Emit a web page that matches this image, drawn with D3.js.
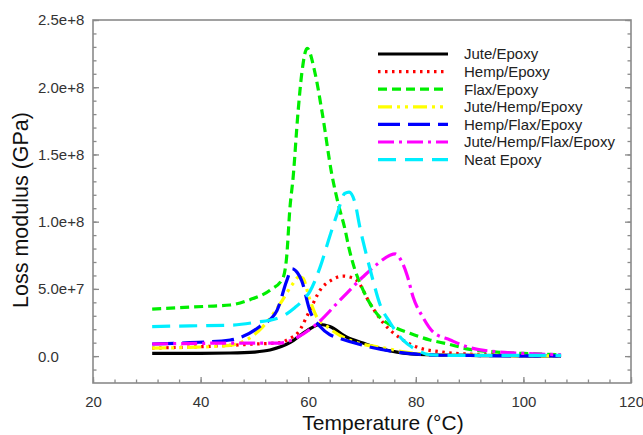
<!DOCTYPE html>
<html>
<head>
<meta charset="utf-8">
<script src="https://cdn.jsdelivr.net/npm/d3@7"></script>
<style>
  html, body { margin: 0; padding: 0; background: #fff; }
  svg { display: block; font-family: "Liberation Sans", Arial, sans-serif; }
</style>
</head>
<body>
<svg id="chart" width="643" height="435"></svg>
<script>
// ---------- data ----------
const seriesNames = ["Jute/Epoxy", "Hemp/Epoxy", "Flax/Epoxy", "Jute/Hemp/Epoxy",
                     "Hemp/Flax/Epoxy", "Jute/Hemp/Flax/Epoxy", "Neat Epoxy"];

const juteT = [31, 40, 45.5, 50, 52.9, 56.6, 59.8, 62.2, 64, 67.2, 70.2, 73, 76.5, 82, 90, 100, 107];
const juteV = [2.0e6, 2.1e6, 2.3e6, 3.0e6, 4.5e6, 1.0e7, 1.9e7, 2.35e7, 2.2e7, 1.4e7, 9.7e6, 6.0e6, 3.0e6, 1.0e6, 5e5, 2e5, 2e5];

const hempT = [31, 40, 45.5, 50, 54.8, 56.5, 58, 60.3, 62.2, 64.5, 66.5, 67.5, 69, 71.5, 73.9, 77.6, 80.2, 85, 90, 95, 100, 107];
const hempV = [6.0e6, 7.0e6, 8.0e6, 9.0e6, 1.0e7, 1.3e7, 1.7e7, 3.4e7, 4.9e7, 5.7e7, 5.95e7, 5.9e7, 5.65e7, 3.9e7, 2.5e7, 1.2e7, 6.7e6, 3.0e6, 1.5e6, 1.0e6, 5e5, 5e5];

const flaxT = [31, 36, 41, 45.5, 49.2, 52.9, 55.3, 56, 56.6, 57.2, 58.1, 58.8, 59.8, 61.3, 62.6, 64.4, 65.6, 66.8, 67.6, 68.7, 70, 71.5, 73.3, 75.8, 78.9, 82.6, 86, 90, 95, 100, 107];
const flaxV = [3.5e7, 3.6e7, 3.7e7, 3.8e7, 4.2e7, 4.9e7, 5.8e7, 7.4e7, 1.1e8, 1.33e8, 1.81e8, 2.1e8, 2.29e8, 2.1e8, 1.81e8, 1.35e8, 1.13e8, 9.5e7, 8.0e7, 6.4e7, 5.1e7, 3.9e7, 2.9e7, 2.2e7, 1.7e7, 1.2e7, 9.0e6, 5.0e6, 3.0e6, 2.0e6, 1.0e6];

const juteHempT = [31, 38, 45.5, 51.6, 54.8, 57, 58.3, 59, 60.3, 61.6, 63.5, 66.5, 70, 73.3, 78, 85, 95, 107];
const juteHempV = [6.0e6, 6.5e6, 8.0e6, 2.2e7, 3.9e7, 5.3e7, 5.9e7, 5.8e7, 4.2e7, 2.9e7, 2.2e7, 1.4e7, 9.0e6, 6.7e6, 3.0e6, 1.0e6, 5e5, 2e5];

const hempFlaxT = [31, 38, 45.5, 51, 54.2, 56, 57, 58, 58.8, 60.3, 62.2, 64, 66, 70.2, 76.5, 82, 90, 100, 107];
const hempFlaxV = [9.0e6, 1.0e7, 1.2e7, 2.2e7, 3.4e7, 5.6e7, 6.5e7, 6.2e7, 5.6e7, 3.4e7, 2.2e7, 1.6e7, 1.3e7, 8.0e6, 3.0e6, 1.0e6, 5e5, 2e5, 2e5];

const allFourT = [31, 40, 45.5, 50, 54.8, 58, 61.6, 66, 70.2, 73, 75.2, 76.2, 77, 78.4, 79.5, 81.3, 83.2, 86.4, 89.5, 95.6, 100, 107];
const allFourV = [9.0e6, 9.5e6, 9.7e6, 9.7e6, 9.7e6, 1.4e7, 2.4e7, 4.2e7, 5.9e7, 6.9e7, 7.5e7, 7.6e7, 7.3e7, 6.0e7, 4.4e7, 2.9e7, 1.8e7, 1.2e7, 6.9e6, 3.0e6, 2.0e6, 1.0e6];

const neatT = [31, 38, 45.5, 50, 54.8, 56.2, 57.5, 58.9, 60.3, 62.2, 64, 65.4, 66.8, 67.6, 68.7, 69.6, 70.9, 72, 73.3, 75.2, 77.6, 80.2, 82.6, 86, 90, 95, 100, 107];
const neatV = [2.2e7, 2.25e7, 2.3e7, 2.5e7, 2.9e7, 3.2e7, 3.6e7, 4.1e7, 4.8e7, 6.6e7, 8.9e7, 1.06e8, 1.21e8, 1.22e8, 1.14e8, 9.6e7, 7.4e7, 5.7e7, 3.9e7, 2.5e7, 1.2e7, 4.5e6, 1.0e6, 5e5, 5e5, 5e5, 5e5, 5e5];

const xMajorTicks = [20, 40, 60, 80, 100, 120];
const xTickLabels = ["20", "40", "60", "80", "100", "120"];
const yMajorTicks = [0, 5e7, 1e8, 1.5e8, 2e8, 2.5e8];
const yTickLabels = ["0.0", "5.0e+7", "1.0e+8", "1.5e+8", "2.0e+8", "2.5e+8"];

const xTitle = "Temperature (°C)";
const yTitle = "Loss modulus (GPa)";

// ---------- styles ----------
const colors = ["#000000", "#ff0000", "#00ee00", "#ffff00", "#0000ff", "#ff00ff", "#00eeff"];
const dashes = [null, "2.5,4.5", "9,5", "14,5,3,5,3,5", "22,8", "16,5,3,5", "18,9"];

const seriesT = [juteT, hempT, flaxT, juteHempT, hempFlaxT, allFourT, neatT];
const seriesV = [juteV, hempV, flaxV, juteHempV, hempFlaxV, allFourV, neatV];

// ---------- layout ----------
const svg = d3.select("#chart");
const L = 93, R = 631, T = 20, B = 383;

const x = d3.scaleLinear().domain([20, 120]).range([L, R]);
const y = d3.scaleLinear().domain([-2e7, 2.5e8]).range([B, T]);

const frameColor = "#8a8a8a";

// minor ticks
const xMinor = d3.range(20, 120.01, 4);
const yMinor = d3.range(-1e7, 2.5e8 + 1, 1e7);

const gAx = svg.append("g");

// bottom axis (ticks inward)
const bottomMinor = d3.axisBottom(x).tickValues(xMinor).tickSize(-3.5).tickFormat("");
const bottomMajor = d3.axisBottom(x).tickValues(xMajorTicks).tickSize(-6)
  .tickFormat((d, i) => xTickLabels[i]).tickPadding(13);
gAx.append("g").attr("transform", `translate(0,${B})`).call(bottomMinor);
const gb = gAx.append("g").attr("transform", `translate(0,${B})`).call(bottomMajor);

// left axis
const leftMinor = d3.axisLeft(y).tickValues(yMinor).tickSize(-3.5).tickFormat("");
const leftMajor = d3.axisLeft(y).tickValues(yMajorTicks).tickSize(-6).tickFormat("");
gAx.append("g").attr("transform", `translate(${L},0)`).call(leftMinor);
gAx.append("g").attr("transform", `translate(${L},0)`).call(leftMajor);

// right axis
const rightMinor = d3.axisRight(y).tickValues(yMinor).tickSize(-3.5).tickFormat("");
const rightMajor = d3.axisRight(y).tickValues(yMajorTicks).tickSize(-6).tickFormat("");
gAx.append("g").attr("transform", `translate(${R},0)`).call(rightMinor);
gAx.append("g").attr("transform", `translate(${R},0)`).call(rightMajor);

gAx.selectAll(".domain").remove();
gAx.selectAll(".tick line").attr("stroke", frameColor).attr("stroke-width", 1.3);

gb.selectAll(".tick text")
  .attr("font-size", 15)
  .attr("fill", "#333")
  .attr("font-family", "Liberation Sans, Arial, sans-serif");

// y tick labels (left aligned as in the reference)
svg.append("g").selectAll("text").data(yMajorTicks).join("text")
  .attr("x", 38)
  .attr("y", d => y(d))
  .attr("dy", "0.36em")
  .attr("font-size", 15)
  .attr("fill", "#333")
  .text((d, i) => yTickLabels[i]);

// frame
svg.append("rect")
  .attr("x", L).attr("y", T)
  .attr("width", R - L).attr("height", B - T)
  .attr("fill", "none")
  .attr("stroke", frameColor)
  .attr("stroke-width", 1.6);

// axis titles
svg.append("text")
  .attr("x", 383).attr("y", 430)
  .attr("text-anchor", "middle")
  .attr("font-size", 21)
  .attr("fill", "#111")
  .text(xTitle);

svg.append("text")
  .attr("transform", "translate(28,210) rotate(-90)")
  .attr("text-anchor", "middle")
  .attr("font-size", 21.5)
  .attr("fill", "#111")
  .text(yTitle);

// ---------- lines ----------
const line = d3.line()
  .x(d => x(d[0]))
  .y(d => y(d[1]))
  .curve(d3.curveMonotoneX);

const gLines = svg.append("g");
seriesNames.forEach((name, i) => {
  const pts = seriesT[i].map((t, j) => [t, seriesV[i][j]]);
  gLines.append("path")
    .datum(pts)
    .attr("d", line)
    .attr("fill", "none")
    .attr("stroke", colors[i])
    .attr("stroke-width", 3.2)
    .attr("stroke-dasharray", dashes[i])
    .attr("stroke-linejoin", "round");
});

// ---------- legend ----------
const legY0 = 54, legDy = 17.6;
const gLeg = svg.append("g");
seriesNames.forEach((name, i) => {
  const yy = legY0 + i * legDy;
  gLeg.append("line")
    .attr("x1", 378).attr("x2", 448)
    .attr("y1", yy).attr("y2", yy)
    .attr("stroke", colors[i])
    .attr("stroke-width", 3.2)
    .attr("stroke-dasharray", dashes[i]);
  gLeg.append("text")
    .attr("x", 464).attr("y", yy)
    .attr("dy", "0.36em")
    .attr("font-size", 15)
    .attr("fill", "#222")
    .text(name);
});
</script>
</body>
</html>
